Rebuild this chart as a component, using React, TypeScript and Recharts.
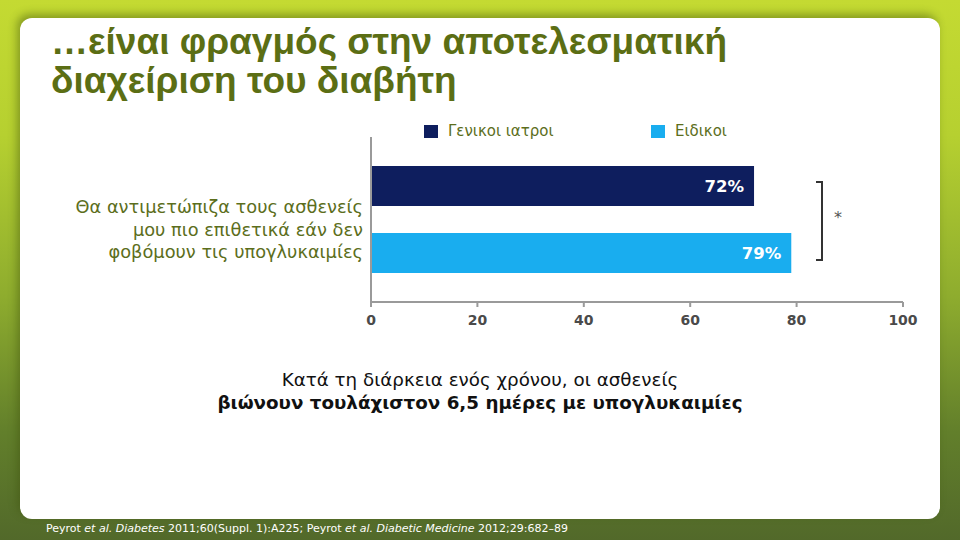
import React from "react";
import {
  BarChart,
  Bar,
  XAxis,
  YAxis,
  Legend,
  LabelList,
} from "recharts";

// --- data ---
const categories = [
  "Θα αντιμετώπιζα τους ασθενείς\nμου πιο επιθετικά εάν δεν\nφοβόμουν τις υπογλυκαιμίες",
];
const generalPractitioners = [72];
const specialists = [79];
const xTicks = [0, 20, 40, 60, 80, 100];

const seriesNames = { gp: "Γενικοι ιατροι", spec: "Ειδικοι" };

const data = categories.map((name, i) => ({
  name,
  gp: generalPractitioners[i],
  spec: specialists[i],
}));

const OLIVE = "#5c6e1c";
const NAVY = "#0e1e5e";
const SKY = "#19adef";
const SANS = "'DejaVu Sans', Verdana, sans-serif";

const CategoryTick = (props: any) => {
  const { x, y, payload } = props;
  const lines = String(payload.value).split("\n");
  const right = x + 7;
  return (
    <text
      x={right}
      y={y}
      textAnchor="end"
      fill={OLIVE}
      fontSize={17.8}
      fontFamily={SANS}
    >
      {lines.map((l, i) => (
        <tspan key={i} x={right} dy={i === 0 ? -6.5 : 22.5}>
          {l}
        </tspan>
      ))}
    </text>
  );
};

const LegendContent = (props: any) => {
  const { payload } = props;
  return (
    <div style={{ display: "flex", paddingLeft: 424, fontFamily: SANS }}>
      {(payload || []).map((p: any, i: number) => (
        <div
          key={i}
          style={{
            display: "flex",
            alignItems: "center",
            width: 227,
            fontSize: 15,
            color: OLIVE,
          }}
        >
          <span
            style={{
              display: "inline-block",
              width: 14,
              height: 13,
              background: p.color,
              marginRight: 10,
            }}
          />
          {p.value}
        </div>
      ))}
    </div>
  );
};

const App: React.FC = () => {
  return (
    <div
      style={{
        position: "absolute",
        left: 0,
        top: 0,
        width: 960,
        height: 540,
        overflow: "hidden",
        background:
          "linear-gradient(180deg, #c4da32 0%, #b6d030 25%, #8eac2e 55%, #627f2b 80%, #52692a 100%)",
        fontFamily: SANS,
      }}
    >
      {/* white slide panel */}
      <div
        style={{
          position: "absolute",
          left: 20,
          top: 18,
          width: 920,
          height: 501,
          background: "#ffffff",
          borderRadius: 12,
          boxShadow: "-3px -4px 8px rgba(60,80,10,0.45)",
        }}
      />

      {/* title */}
      <div
        style={{
          position: "absolute",
          left: 51,
          top: 22,
          fontFamily: "'Liberation Sans', Arial, sans-serif",
          fontWeight: "bold",
          fontSize: 37,
          lineHeight: "39px",
          color: "#5b6e14",
          whiteSpace: "nowrap",
        }}
      >
        …είναι φραγμός στην αποτελεσματική
        <br />
        διαχείριση του διαβήτη
      </div>

      <div style={{ position: "absolute", left: 0, top: 0 }}>
        <BarChart
          width={960}
          height={540}
          data={data}
          layout="vertical"
          margin={{ top: 137, right: 57, bottom: 208, left: 20 }}
          barSize={40}
          barGap={27}
        >
          <XAxis
            type="number"
            domain={[0, 100]}
            ticks={xTicks}
            height={30}
            axisLine={{ stroke: "#9a9a9a", strokeWidth: 2 }}
            tickLine={{ stroke: "#9a9a9a", strokeWidth: 2 }}
            tickSize={5}
            tickMargin={8}
            tick={{ fill: "#4a4a4a", fontSize: 14, fontWeight: "bold", fontFamily: SANS }}
          />
          <YAxis
            type="category"
            dataKey="name"
            width={351}
            interval={0}
            axisLine={{ stroke: "#9a9a9a", strokeWidth: 2 }}
            tickLine={false}
            tickMargin={9}
            tick={<CategoryTick />}
          />
          <Legend
            verticalAlign="middle"
            layout="horizontal"
            content={<LegendContent />}
            wrapperStyle={{ top: 122, left: 0, width: 960 }}
          />
          <Bar dataKey="gp" name={seriesNames.gp} fill={NAVY} isAnimationActive={false}>
            <LabelList
              dataKey="gp"
              position="insideRight"
              offset={10}
              formatter={(v: any) => `${v}%`}
              style={{ fill: "#ffffff", fontSize: 16.5, fontWeight: "bold", fontFamily: SANS }}
            />
          </Bar>
          <Bar dataKey="spec" name={seriesNames.spec} fill={SKY} isAnimationActive={false}>
            <LabelList
              dataKey="spec"
              position="insideRight"
              offset={10}
              formatter={(v: any) => `${v}%`}
              style={{ fill: "#ffffff", fontSize: 16.5, fontWeight: "bold", fontFamily: SANS }}
            />
          </Bar>
        </BarChart>
      </div>

      {/* significance bracket */}
      <div
        style={{
          position: "absolute",
          left: 816,
          top: 181,
          width: 5,
          height: 76,
          borderTop: "2px solid #333",
          borderRight: "2px solid #333",
          borderBottom: "2px solid #333",
        }}
      />
      <div
        style={{
          position: "absolute",
          left: 834,
          top: 208,
          fontSize: 16,
          color: "#555",
        }}
      >
        *
      </div>

      {/* caption */}
      <div
        style={{
          position: "absolute",
          left: 0,
          top: 368,
          width: 960,
          textAlign: "center",
          fontSize: 18.3,
          lineHeight: "23px",
          color: "#111",
        }}
      >
        Κατά τη διάρκεια ενός χρόνου, οι ασθενείς
        <br />
        <b>βιώνουν τουλάχιστον 6,5 ημέρες με υπογλυκαιμίες</b>
      </div>

      {/* reference */}
      <div
        style={{
          position: "absolute",
          left: 46,
          top: 522,
          fontSize: 11,
          color: "#ffffff",
          whiteSpace: "nowrap",
        }}
      >
        Peyrot <i>et al. Diabetes</i> 2011;60(Suppl. 1):A225; Peyrot <i>et al. Diabetic Medicine</i> 2012;29:682–89
      </div>
    </div>
  );
};

export default App;
